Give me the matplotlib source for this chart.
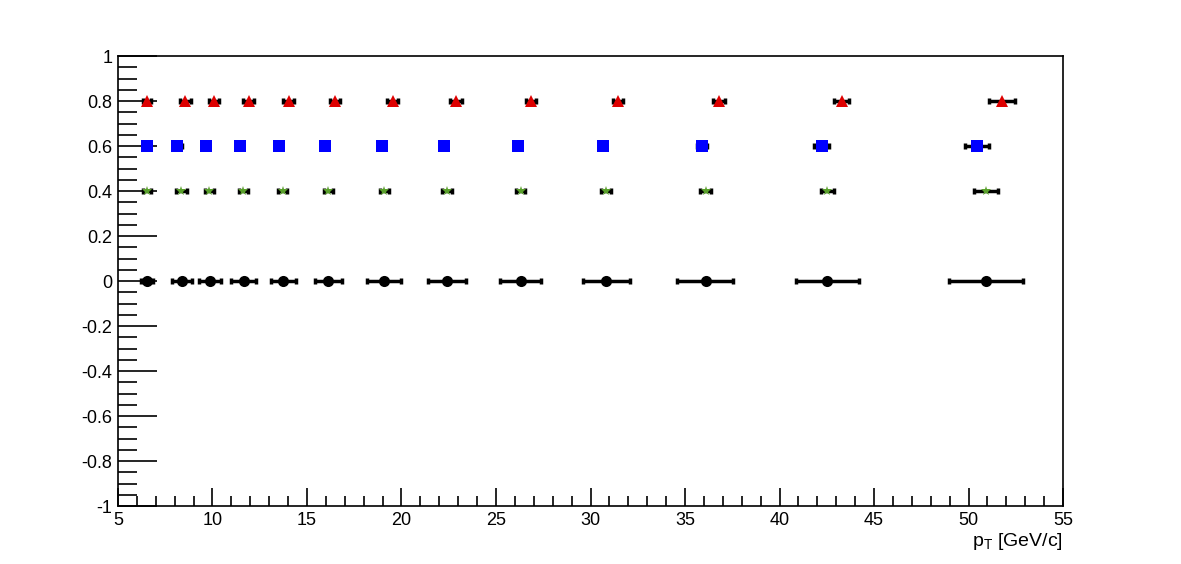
import numpy as np
import matplotlib.pyplot as plt
from matplotlib.ticker import MultipleLocator

plt.rcParams['font.family'] = ['Liberation Sans', 'DejaVu Sans']

# black points, y = 0
black_x = [6.53, 8.37, 9.87, 11.67, 13.71, 16.13, 19.10, 22.40, 26.30, 30.80, 36.10, 42.53, 50.94]
black_lo = [6.20, 7.84, 9.30, 11.00, 13.10, 15.40, 18.20, 21.40, 25.20, 29.60, 34.60, 40.87, 48.97]
black_hi = [6.85, 8.90, 10.45, 12.30, 14.40, 16.86, 20.00, 23.40, 27.40, 32.10, 37.55, 44.19, 52.90]

# green stars, y = 0.4
green_x = [6.51, 8.33, 9.83, 11.63, 13.71, 16.13, 19.09, 22.40, 26.30, 30.80, 36.10, 42.53, 50.94]
green_lo = [6.30, 8.05, 9.58, 11.38, 13.46, 15.90, 18.86, 22.15, 26.06, 30.54, 35.80, 42.17, 50.30]
green_hi = [6.75, 8.63, 10.08, 11.88, 13.96, 16.36, 19.32, 22.65, 26.55, 31.09, 36.40, 42.90, 51.56]

# blue squares, y = 0.6
blue_x = [6.51, 8.13, 9.66, 11.46, 13.54, 15.97, 18.97, 22.25, 26.18, 30.66, 35.88, 42.23, 50.45]
blue_lo = [6.51, 7.89, 9.66, 11.46, 13.54, 15.97, 18.97, 22.25, 26.18, 30.66, 35.61, 41.84, 49.80]
blue_hi = [6.51, 8.38, 9.66, 11.46, 13.54, 15.97, 18.97, 22.25, 26.18, 30.66, 36.17, 42.62, 51.10]

# red triangles, y = 0.8
red_x = [6.55, 8.56, 10.10, 11.93, 14.05, 16.50, 19.53, 22.88, 26.85, 31.43, 36.78, 43.29, 51.75]
red_lo = [6.35, 8.28, 9.83, 11.60, 13.75, 16.20, 19.25, 22.58, 26.60, 31.17, 36.46, 42.88, 51.07]
red_hi = [6.75, 8.84, 10.36, 12.20, 14.30, 16.75, 19.80, 23.18, 27.10, 31.73, 37.10, 43.69, 52.46]

series = [
    (black_x, black_lo, black_hi, 0.0, 'o', 'black', 8),
    (green_x, green_lo, green_hi, 0.4, '*', '#5aa02c', 7),
    (blue_x, blue_lo, blue_hi, 0.6, 's', '#0000ff', 8),
    (red_x, red_lo, red_hi, 0.8, '^', '#dd0000', 8),
]

fig = plt.figure(figsize=(11.81, 5.64), dpi=100)
ax = fig.add_axes([0.0999, 0.1028, 0.8002, 0.7979])

for xs, lo, hi, yv, mk, col, ms in series:
    xs = np.array(xs)
    err = [xs - np.array(lo), np.array(hi) - xs]
    ys = np.full(len(xs), yv)
    ax.errorbar(xs, ys, xerr=err, fmt='none', ecolor='black', elinewidth=2.5,
                capsize=2, capthick=2.5, zorder=2)
    ax.plot(xs, ys, linestyle='none', marker=mk, color=col, markersize=ms,
            markeredgewidth=0, zorder=3)

ax.set_xlim(5, 55)
ax.set_ylim(-1, 1)
ax.xaxis.set_major_locator(MultipleLocator(5))
ax.xaxis.set_minor_locator(MultipleLocator(1))
ax.yaxis.set_major_locator(MultipleLocator(0.2))
ax.yaxis.set_minor_locator(MultipleLocator(0.05))
ax.yaxis.set_major_formatter(plt.FuncFormatter(lambda v, p: ('%g' % round(v, 2)).replace('-0', '-0') if abs(v) > 1e-9 else '0'))

ax.tick_params(axis='x', which='major', direction='in', length=13, width=1.2,
               labelsize=13, pad=4, top=False)
ax.tick_params(axis='x', which='minor', direction='in', length=7, width=1.2, top=False)
ax.tick_params(axis='y', which='major', direction='in', length=28, width=1.2,
               labelsize=13, pad=4, right=False)
ax.tick_params(axis='y', which='minor', direction='in', length=14, width=1.2, right=False)

for s in ax.spines.values():
    s.set_linewidth(1.2)

ax.set_xlabel('p$_{\\mathregular{T}}$ [GeV/c]', fontsize=14, loc='right', labelpad=2)

fig.savefig('out.png', dpi=100)
